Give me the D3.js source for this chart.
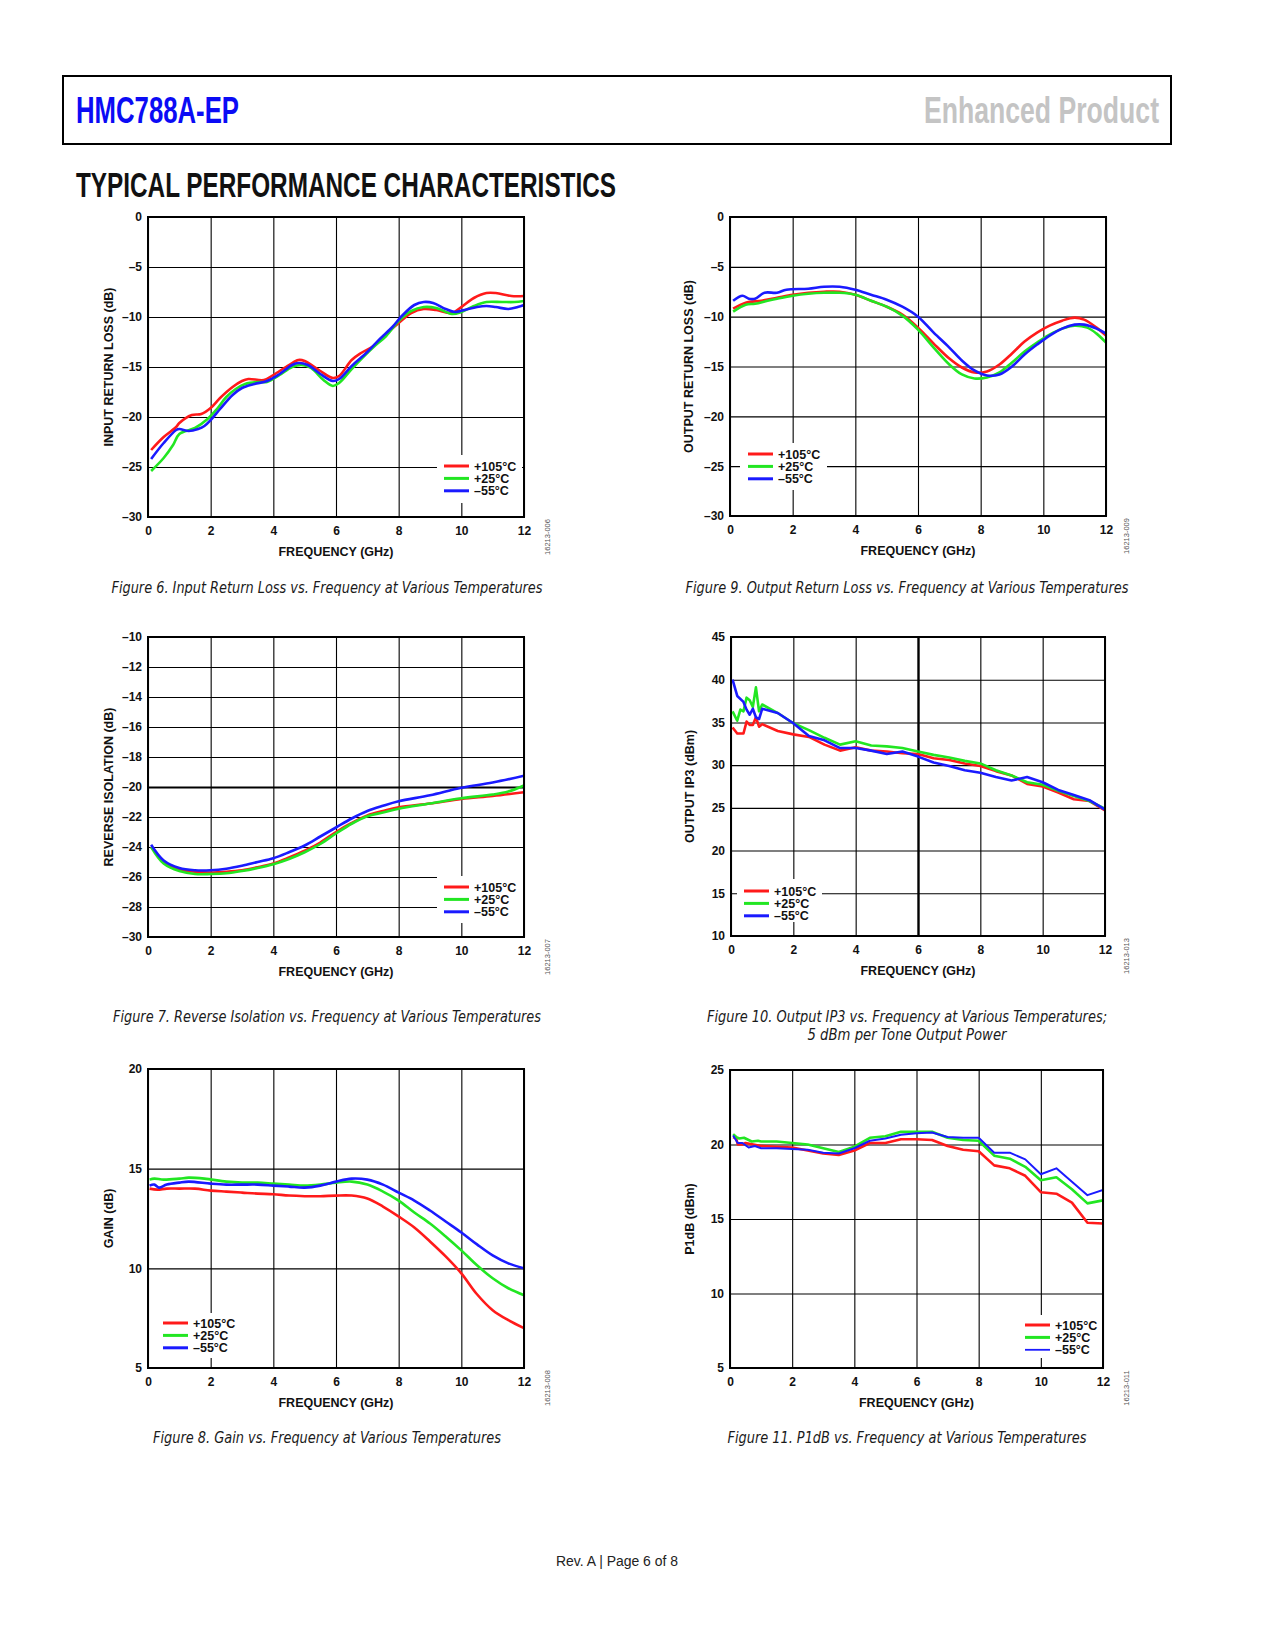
<!DOCTYPE html>
<html>
<head>
<meta charset="utf-8">
<script src="https://cdn.jsdelivr.net/npm/d3@7/dist/d3.min.js"></script>
<style>
  body { margin: 0; background: #fff; }
  svg text { font-family: "Liberation Sans", Arial, sans-serif; }
  .cond { font-family: "Liberation Sans Narrow", "Liberation Sans", sans-serif !important; font-weight: bold; }
  .caption { font-family: "Liberation Sans Narrow", "DejaVu Sans Condensed", "Open Sans", sans-serif !important; font-style: italic; }
</style>
</head>
<body>
<svg id="page" width="1275" height="1650"></svg>
<script>
// ---------------- data ----------------
var freqTicks  = [0, 2, 4, 6, 8, 10, 12];
var tempLabels = ["+105°C", "+25°C", "–55°C"];
var tempColors = ["#ff1a1a", "#22e622", "#1a1aff"];

// Figure 6, input return loss (dB)
var irl_hot  = [[0.1,-23.3],[0.5,-22.0],[0.9,-21.0],[1.0,-20.6],[1.4,-19.8],[1.7,-19.7],[2.0,-19.1],[2.3,-18.1],[2.7,-17.0],[3.0,-16.4],[3.2,-16.2],[3.7,-16.3],[4.0,-15.8],[4.5,-14.8],[4.8,-14.3],[5.0,-14.4],[5.5,-15.4],[5.9,-16.1],[6.1,-15.9],[6.5,-14.3],[6.8,-13.6],[7.2,-12.9],[7.6,-11.7],[8.0,-10.6],[8.4,-9.6],[8.8,-9.2],[9.2,-9.3],[9.7,-9.6],[10.0,-9.0],[10.4,-8.1],[10.8,-7.6],[11.1,-7.6],[11.6,-7.9],[12.0,-7.9]];
var irl_room = [[0.1,-25.4],[0.5,-24.1],[0.8,-22.8],[1.0,-21.7],[1.5,-21.1],[1.9,-20.2],[2.2,-19.2],[2.5,-18.0],[2.8,-17.2],[3.1,-16.7],[3.5,-16.5],[3.8,-16.5],[4.2,-15.8],[4.6,-15.0],[4.9,-14.8],[5.2,-15.1],[5.6,-16.3],[5.9,-16.9],[6.1,-16.6],[6.5,-15.2],[6.9,-13.9],[7.2,-13.0],[7.6,-11.9],[8.0,-10.4],[8.4,-9.4],[8.8,-9.0],[9.2,-9.1],[9.7,-9.7],[10.0,-9.5],[10.4,-8.9],[10.8,-8.5],[11.3,-8.5],[11.7,-8.5],[12.0,-8.4]];
var irl_cold = [[0.1,-24.2],[0.5,-22.6],[0.9,-21.3],[1.0,-21.2],[1.3,-21.4],[1.6,-21.2],[1.8,-20.9],[2.0,-20.3],[2.3,-19.2],[2.7,-17.8],[3.0,-17.1],[3.4,-16.7],[3.8,-16.4],[4.2,-15.7],[4.6,-14.8],[4.8,-14.6],[5.1,-14.8],[5.5,-15.7],[5.9,-16.4],[6.1,-16.2],[6.5,-14.9],[7.0,-13.5],[7.4,-12.2],[7.8,-11.0],[8.1,-9.9],[8.5,-8.8],[8.8,-8.5],[9.1,-8.6],[9.5,-9.2],[9.8,-9.5],[10.1,-9.3],[10.5,-9.0],[10.8,-8.9],[11.1,-9.0],[11.5,-9.2],[11.8,-9.0],[12.0,-8.8]];

// Figure 9, output return loss (dB)
var orl_hot  = [[0.1,-9.2],[0.5,-8.6],[1.0,-8.4],[1.5,-8.1],[2.0,-7.8],[2.5,-7.6],[3.0,-7.5],[3.5,-7.5],[4.0,-7.8],[4.5,-8.4],[5.0,-9.0],[5.5,-9.8],[6.0,-11.1],[6.5,-12.7],[7.0,-14.2],[7.4,-15.1],[7.8,-15.6],[8.2,-15.5],[8.6,-14.8],[9.0,-13.7],[9.4,-12.5],[9.8,-11.6],[10.2,-10.9],[10.6,-10.4],[11.0,-10.1],[11.3,-10.3],[11.7,-11.1],[12.0,-11.9]];
var orl_room = [[0.1,-9.5],[0.5,-8.8],[0.8,-8.7],[1.2,-8.4],[1.5,-8.2],[2.0,-7.9],[2.5,-7.7],[3.0,-7.6],[3.5,-7.6],[4.0,-7.8],[4.5,-8.4],[5.0,-9.0],[5.5,-9.9],[6.0,-11.3],[6.5,-13.1],[7.0,-14.8],[7.4,-15.8],[7.8,-16.2],[8.2,-16.1],[8.6,-15.6],[9.0,-14.6],[9.4,-13.5],[9.8,-12.6],[10.2,-11.8],[10.6,-11.2],[11.0,-10.9],[11.4,-11.1],[11.7,-11.7],[12.0,-12.6]];
var orl_cold = [[0.1,-8.4],[0.4,-7.9],[0.6,-8.2],[0.8,-8.2],[1.1,-7.6],[1.5,-7.6],[1.8,-7.3],[2.5,-7.2],[3.0,-7.0],[3.5,-7.0],[4.0,-7.3],[4.5,-7.8],[5.0,-8.3],[5.5,-9.0],[6.0,-10.0],[6.5,-11.6],[7.0,-13.1],[7.4,-14.4],[7.8,-15.4],[8.2,-15.9],[8.6,-15.8],[9.0,-15.0],[9.4,-13.8],[9.8,-12.8],[10.2,-11.9],[10.6,-11.2],[11.0,-10.8],[11.3,-10.8],[11.7,-11.2],[12.0,-11.7]];

// Figure 7, reverse isolation (dB)
var iso_hot  = [[0.1,-24.0],[0.3,-24.5],[0.5,-25.0],[0.8,-25.35],[1.0,-25.5],[1.5,-25.65],[2.0,-25.7],[2.5,-25.65],[3.0,-25.55],[3.5,-25.35],[4.0,-25.1],[4.5,-24.7],[5.0,-24.25],[5.5,-23.7],[6.0,-23.0],[6.5,-22.4],[7.0,-21.9],[7.5,-21.6],[8.0,-21.35],[9.0,-21.1],[10.0,-20.8],[11.0,-20.6],[12.0,-20.35]];
var iso_room = [[0.1,-24.0],[0.5,-25.1],[1.0,-25.6],[1.5,-25.8],[2.0,-25.8],[2.5,-25.75],[3.0,-25.6],[3.5,-25.4],[4.0,-25.15],[4.5,-24.8],[5.0,-24.35],[5.5,-23.8],[6.0,-23.1],[6.5,-22.45],[7.0,-21.95],[7.5,-21.7],[8.0,-21.45],[9.0,-21.1],[10.0,-20.75],[11.0,-20.5],[11.5,-20.3],[12.0,-19.9]];
var iso_cold = [[0.1,-23.85],[0.5,-24.9],[1.0,-25.4],[1.5,-25.55],[2.0,-25.55],[2.5,-25.45],[3.0,-25.25],[3.5,-25.0],[4.0,-24.75],[4.5,-24.35],[5.0,-23.9],[5.5,-23.3],[6.0,-22.7],[6.5,-22.1],[7.0,-21.6],[7.5,-21.25],[8.0,-20.95],[9.0,-20.55],[10.0,-20.05],[11.0,-19.7],[12.0,-19.25]];

// Figure 10, output IP3 (dBm)
var oip3_hot  = [[0.05,34.4],[0.2,33.7],[0.4,33.7],[0.5,35.1],[0.6,34.7],[0.7,34.7],[0.8,35.6],[0.9,34.5],[1.0,34.8],[1.5,34.0],[2.0,33.6],[2.5,33.3],[3.0,32.4],[3.5,31.7],[4.0,32.1],[4.5,31.7],[5.0,31.6],[5.5,31.4],[6.0,31.3],[6.5,30.8],[7.0,30.6],[7.5,30.2],[8.0,29.9],[8.5,29.3],[9.0,28.8],[9.5,27.8],[10.0,27.5],[10.5,26.8],[11.0,26.0],[11.5,25.8],[12.0,24.7]];
var oip3_room = [[0.05,36.3],[0.2,35.2],[0.3,36.5],[0.4,36.3],[0.5,37.9],[0.6,37.6],[0.7,36.8],[0.8,39.1],[0.9,36.3],[1.0,37.1],[1.5,36.1],[2.0,34.9],[2.5,34.1],[3.0,33.2],[3.5,32.4],[4.0,32.8],[4.5,32.3],[5.0,32.2],[5.5,32.0],[6.0,31.6],[6.5,31.2],[7.0,30.9],[7.5,30.5],[8.0,30.2],[8.5,29.4],[9.0,28.8],[9.5,28.0],[10.0,27.7],[10.5,27.0],[11.0,26.4],[11.5,25.8],[12.0,24.9]];
var oip3_cold = [[0.05,40.0],[0.2,38.1],[0.4,37.4],[0.5,36.5],[0.6,35.9],[0.7,36.6],[0.8,35.6],[0.9,35.4],[1.0,36.6],[1.5,36.1],[2.0,34.9],[2.5,33.4],[3.0,32.9],[3.5,32.0],[4.0,32.0],[4.5,31.7],[5.0,31.3],[5.5,31.6],[6.0,31.0],[6.5,30.3],[7.0,29.9],[7.5,29.4],[8.0,29.1],[8.5,28.6],[9.0,28.2],[9.5,28.6],[10.0,28.0],[10.5,27.1],[11.0,26.5],[11.5,25.9],[12.0,24.8]];

// Figure 8, gain (dB)
var gain_hot  = [[0.05,14.0],[0.3,13.95],[0.6,14.0],[1.0,14.0],[1.5,14.0],[2.0,13.9],[2.5,13.85],[3.0,13.8],[3.5,13.75],[4.0,13.72],[4.5,13.65],[5.0,13.62],[5.5,13.62],[6.0,13.65],[6.5,13.65],[7.0,13.5],[7.5,13.1],[8.0,12.6],[8.5,12.05],[9.0,11.35],[9.5,10.6],[10.0,9.75],[10.5,8.7],[11.0,7.9],[11.5,7.4],[12.0,7.0]];
var gain_room = [[0.05,14.45],[0.2,14.5],[0.5,14.45],[1.0,14.5],[1.3,14.55],[1.8,14.5],[2.5,14.35],[3.0,14.3],[3.5,14.3],[4.0,14.25],[4.5,14.2],[5.0,14.15],[5.5,14.2],[6.0,14.3],[6.5,14.35],[7.0,14.2],[7.5,13.85],[8.0,13.4],[8.5,12.8],[9.0,12.25],[9.5,11.6],[10.0,10.9],[10.5,10.15],[11.0,9.5],[11.5,9.0],[12.0,8.65]];
var gain_cold = [[0.05,14.15],[0.2,14.2],[0.35,14.05],[0.6,14.2],[1.0,14.3],[1.3,14.35],[2.0,14.25],[2.5,14.2],[3.0,14.2],[3.5,14.2],[4.0,14.15],[4.5,14.1],[5.0,14.05],[5.5,14.15],[6.0,14.35],[6.5,14.5],[7.0,14.45],[7.5,14.2],[8.0,13.8],[8.5,13.4],[9.0,12.9],[9.5,12.35],[10.0,11.8],[10.5,11.2],[11.0,10.65],[11.5,10.25],[12.0,10.0]];

// Figure 11, P1dB (dBm)
var p1db_hot  = [[0.1,20.5],[0.2,20.4],[0.25,20.0],[0.4,20.0],[0.5,20.1],[1.0,19.9],[1.5,19.85],[2.0,19.8],[2.5,19.6],[3.0,19.4],[3.5,19.3],[4.0,19.6],[4.5,20.1],[5.0,20.1],[5.5,20.35],[6.0,20.35],[6.5,20.3],[7.0,19.9],[7.5,19.65],[8.0,19.55],[8.5,18.6],[9.0,18.4],[9.5,17.9],[10.0,16.8],[10.5,16.7],[11.0,16.1],[11.5,14.75],[12.0,14.7]];
var p1db_room = [[0.1,20.7],[0.2,20.5],[0.3,20.4],[0.45,20.45],[0.7,20.2],[0.9,20.25],[1.0,20.2],[1.5,20.2],[2.0,20.1],[2.5,20.0],[3.0,19.75],[3.5,19.5],[4.0,19.85],[4.5,20.45],[5.0,20.55],[5.5,20.85],[6.0,20.85],[6.5,20.85],[7.0,20.45],[7.5,20.3],[8.0,20.25],[8.5,19.25],[9.0,19.05],[9.5,18.5],[10.0,17.6],[10.5,17.8],[11.0,17.0],[11.5,16.05],[12.0,16.25]];
var p1db_cold = [[0.1,20.6],[0.25,20.1],[0.4,20.1],[0.6,19.8],[0.8,19.9],[1.0,19.75],[1.5,19.75],[2.0,19.7],[2.5,19.65],[3.0,19.45],[3.5,19.4],[4.0,19.75],[4.5,20.25],[5.0,20.4],[5.5,20.65],[6.0,20.75],[6.5,20.8],[7.0,20.5],[7.5,20.45],[8.0,20.45],[8.5,19.45],[9.0,19.45],[9.5,19.0],[10.0,18.0],[10.5,18.4],[11.0,17.5],[11.5,16.6],[12.0,16.95]];

// y tick values
var rlTicks   = [-30, -25, -20, -15, -10, -5, 0];
var isoTicks  = [-30, -28, -26, -24, -22, -20, -18, -16, -14, -12, -10];
var oip3Ticks = [10, 15, 20, 25, 30, 35, 40, 45];
var gainTicks = [5, 10, 15, 20];
var p1dbTicks = [5, 10, 15, 20, 25];

// ---------------- page ----------------
var page = d3.select("#page");

// header box
page.append("rect")
    .attr("x", 63).attr("y", 76).attr("width", 1108).attr("height", 68)
    .attr("fill", "none").attr("stroke", "#000").attr("stroke-width", 2);
page.append("text").attr("class", "cond")
    .attr("x", 76).attr("y", 123).attr("font-size", 36).attr("fill", "#0b0bf5")
    .attr("textLength", 163).attr("lengthAdjust", "spacingAndGlyphs")
    .text("HMC788A-EP");
page.append("text").attr("class", "cond")
    .attr("x", 924).attr("y", 123).attr("font-size", 36).attr("fill", "#c4c4c4")
    .attr("textLength", 235).attr("lengthAdjust", "spacingAndGlyphs")
    .text("Enhanced Product");
page.append("text").attr("class", "cond")
    .attr("x", 76).attr("y", 197).attr("font-size", 35).attr("fill", "#111")
    .attr("textLength", 540).attr("lengthAdjust", "spacingAndGlyphs")
    .text("TYPICAL PERFORMANCE CHARACTERISTICS");

function fmtTick(d) { return d < 0 ? "–" + Math.abs(d) : String(d); }

// one chart
function drawChart(cfg, idx) {
    var x = d3.scaleLinear().domain([0, 12]).range([cfg.left, cfg.right]);
    var y = d3.scaleLinear().domain(cfg.yDomain).range([cfg.bottom, cfg.top]);
    var w = cfg.right - cfg.left, h = cfg.bottom - cfg.top;
    var g = page.append("g");

    // grid + tick labels from the axes
    var xAxis = d3.axisBottom(x).tickValues(freqTicks).tickSize(-h).tickPadding(9).tickFormat(fmtTick);
    var yAxis = d3.axisLeft(y).tickValues(cfg.yTicks).tickSize(-w).tickPadding(6).tickFormat(fmtTick);
    var gx = g.append("g").attr("transform", "translate(0," + cfg.bottom + ")").call(xAxis);
    var gy = g.append("g").attr("transform", "translate(" + cfg.left + ",0)").call(yAxis);
    [gx, gy].forEach(function(a) {
        a.select(".domain").remove();
        a.selectAll("line").attr("stroke", "#000").attr("stroke-width", 1.1);
        a.selectAll("text").attr("font-size", 12).attr("font-weight", "bold").attr("fill", "#111")
            .attr("font-family", "Liberation Sans, Arial, sans-serif");
    });
    if (cfg.thickY !== undefined) gy.selectAll(".tick").filter(function(d) { return d === cfg.thickY; })
        .select("line").attr("stroke-width", 2.2);
    if (cfg.thickX !== undefined) gx.selectAll(".tick").filter(function(d) { return d === cfg.thickX; })
        .select("line").attr("stroke-width", 2.4);

    // legend background hides the grid under it
    var lg = cfg.legend;
    g.append("rect").attr("x", lg.bx).attr("y", lg.by).attr("width", lg.bw).attr("height", lg.bh).attr("fill", "#fff");

    // curves
    var clipId = "clip" + idx;
    g.append("clipPath").attr("id", clipId).append("rect")
        .attr("x", cfg.left).attr("y", cfg.top).attr("width", w).attr("height", h);
    var line = d3.line().x(function(d) { return x(d[0]); }).y(function(d) { return y(d[1]); }).curve(cfg.curve);
    g.append("g").attr("clip-path", "url(#" + clipId + ")")
        .selectAll("path").data(cfg.series).enter().append("path")
        .attr("d", line)
        .attr("fill", "none")
        .attr("stroke", function(d, i) { return tempColors[i]; })
        .attr("stroke-width", function(d, i) { return cfg.widths ? cfg.widths[i] : 2.6; })
        .attr("stroke-linejoin", "round");

    // legend
    var items = g.append("g").selectAll("g").data(tempLabels).enter().append("g");
    items.append("line")
        .attr("x1", lg.lx).attr("x2", lg.lx + 25)
        .attr("y1", function(d, i) { return lg.ly + i * 12.4; })
        .attr("y2", function(d, i) { return lg.ly + i * 12.4; })
        .attr("stroke", function(d, i) { return tempColors[i]; })
        .attr("stroke-width", function(d, i) { return cfg.legendWidths ? cfg.legendWidths[i] : 3; });
    items.append("text")
        .attr("x", lg.lx + 30)
        .attr("y", function(d, i) { return lg.ly + i * 12.4; })
        .attr("dy", "0.36em")
        .attr("font-size", 12.5).attr("font-weight", "bold").attr("fill", "#111")
        .text(function(d) { return d; });

    // frame
    g.append("rect").attr("x", cfg.left).attr("y", cfg.top).attr("width", w).attr("height", h)
        .attr("fill", "none").attr("stroke", "#000").attr("stroke-width", 2);

    // axis titles
    g.append("text")
        .attr("x", (cfg.left + cfg.right) / 2).attr("y", cfg.bottom + 39)
        .attr("text-anchor", "middle").attr("font-size", 12.5).attr("font-weight", "bold").attr("fill", "#111")
        .text("FREQUENCY (GHz)");
    g.append("text")
        .attr("transform", "translate(" + cfg.yTitleX + "," + (cfg.top + cfg.bottom) / 2 + ") rotate(-90)")
        .attr("text-anchor", "middle").attr("dy", "0.36em")
        .attr("font-size", 12.5).attr("font-weight", "bold").attr("fill", "#111")
        .text(cfg.yTitle);

    // figure id
    g.append("text")
        .attr("transform", "translate(" + cfg.idX + "," + (cfg.bottom + 20) + ") rotate(-90)")
        .attr("text-anchor", "middle").attr("dy", "0.36em")
        .attr("font-size", 7.5).attr("fill", "#555")
        .text(cfg.id);

    // caption
    cfg.caption.forEach(function(c) {
        page.append("text").attr("class", "caption")
            .attr("x", c.cx - c.len / 2).attr("y", c.y)
            .attr("font-size", 16).attr("fill", "#1a1a1a")
            .attr("textLength", c.len).attr("lengthAdjust", "spacingAndGlyphs")
            .text(c.text);
    });
}

var charts = [
    { left: 148, right: 524, top: 217, bottom: 517, yDomain: [-30, 0], yTicks: rlTicks,
      series: [irl_hot, irl_room, irl_cold], curve: d3.curveCatmullRom.alpha(0.5),
      yTitle: "INPUT RETURN LOSS (dB)", yTitleX: 108, id: "16213-006", idX: 547,
      legend: { bx: 437, by: 455, bw: 85, bh: 48, lx: 444, ly: 466 },
      caption: [{ cx: 327, y: 593, len: 431, text: "Figure 6. Input Return Loss vs. Frequency at Various Temperatures" }] },
    { left: 730, right: 1106, top: 217, bottom: 516, yDomain: [-30, 0], yTicks: rlTicks,
      series: [orl_hot, orl_room, orl_cold], curve: d3.curveCatmullRom.alpha(0.5),
      yTitle: "OUTPUT RETURN LOSS (dB)", yTitleX: 688, id: "16213-009", idX: 1126,
      legend: { bx: 740, by: 443, bw: 87, bh: 47, lx: 748, ly: 454 },
      caption: [{ cx: 907, y: 593, len: 443, text: "Figure 9. Output Return Loss vs. Frequency at Various Temperatures" }] },
    { left: 148, right: 524, top: 637, bottom: 937, yDomain: [-30, -10], yTicks: isoTicks, thickY: -20,
      series: [iso_hot, iso_room, iso_cold], curve: d3.curveCatmullRom.alpha(0.5),
      yTitle: "REVERSE ISOLATION (dB)", yTitleX: 108, id: "16213-007", idX: 547,
      legend: { bx: 437, by: 876, bw: 86, bh: 47, lx: 444, ly: 887 },
      caption: [{ cx: 327, y: 1022, len: 428, text: "Figure 7. Reverse Isolation vs. Frequency at Various Temperatures" }] },
    { left: 731, right: 1105, top: 637, bottom: 936, yDomain: [10, 45], yTicks: oip3Ticks, thickX: 6,
      series: [oip3_hot, oip3_room, oip3_cold], curve: d3.curveLinear,
      yTitle: "OUTPUT IP3 (dBm)", yTitleX: 689, id: "16213-013", idX: 1126,
      legend: { bx: 737, by: 879, bw: 85, bh: 43, lx: 744, ly: 891 },
      caption: [{ cx: 907, y: 1022, len: 400, text: "Figure 10. Output IP3 vs. Frequency at Various Temperatures;" },
                { cx: 907, y: 1040, len: 199, text: "5 dBm per Tone Output Power" }] },
    { left: 148, right: 524, top: 1069, bottom: 1368, yDomain: [5, 20], yTicks: gainTicks,
      series: [gain_hot, gain_room, gain_cold], curve: d3.curveCatmullRom.alpha(0.5),
      yTitle: "GAIN (dB)", yTitleX: 108, id: "16213-008", idX: 547,
      legend: { bx: 150, by: 1313, bw: 90, bh: 45, lx: 163, ly: 1323 },
      caption: [{ cx: 327, y: 1443, len: 348, text: "Figure 8. Gain vs. Frequency at Various Temperatures" }] },
    { left: 730, right: 1103, top: 1070, bottom: 1368, yDomain: [5, 25], yTicks: p1dbTicks,
      series: [p1db_hot, p1db_room, p1db_cold], curve: d3.curveLinear,
      widths: [2.6, 2.6, 2.0], legendWidths: [3, 3, 1.8],
      yTitle: "P1dB (dBm)", yTitleX: 689, id: "16213-011", idX: 1126,
      legend: { bx: 1020, by: 1315, bw: 82, bh: 43, lx: 1025, ly: 1325 },
      caption: [{ cx: 907, y: 1443, len: 359, text: "Figure 11. P1dB vs. Frequency at Various Temperatures" }] }
];

charts.forEach(drawChart);

// footer
page.append("text")
    .attr("x", 556).attr("y", 1566)
    .attr("font-family", "Open Sans, Liberation Sans, sans-serif").attr("font-size", 14).attr("fill", "#222")
    .attr("textLength", 122).attr("lengthAdjust", "spacingAndGlyphs")
    .text("Rev. A | Page 6 of 8");
</script>
</body>
</html>
